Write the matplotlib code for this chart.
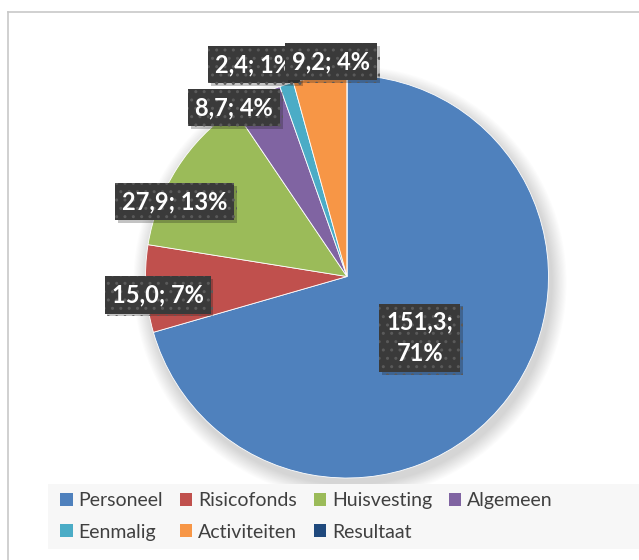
import matplotlib.pyplot as plt
from matplotlib.patches import Patch, Rectangle, Circle
from matplotlib.lines import Line2D
import matplotlib.patheffects as pe

plt.rcParams['font.family'] = ['Lato', 'DejaVu Sans']

categories = ['Personeel', 'Risicofonds', 'Huisvesting', 'Algemeen',
              'Eenmalig', 'Activiteiten', 'Resultaat']
values = [151.3, 15.0, 27.9, 8.7, 2.4, 9.2, 0.0]
colors = ['#4F81BD', '#C0504D', '#9BBB59', '#8064A2',
          '#4BACC6', '#F79646', '#1F497D']
# where Excel put the data labels (pie units, radius = 1)
label_pos = [(0.362, -0.305), (-0.940, -0.092), (-0.856, 0.372),
             (-0.561, 0.839), (-0.462, 1.052), (-0.079, 1.067), None]

fig = plt.figure(figsize=(6.39, 5.6), dpi=100)

# chart frame (cut off at right and bottom)
fig.add_artist(Line2D([8 / 639, 8 / 639], [0, 1 - 12 / 560], color='#c8c8c8', lw=1.2))
fig.add_artist(Line2D([8 / 639, 1], [1 - 12 / 560, 1 - 12 / 560], color='#c8c8c8', lw=1.2))

# legend background
fig.add_artist(Rectangle((48 / 639, 1 - 549 / 560), 1, 65 / 560,
                         facecolor='#f7f7f7', edgecolor='none'))

ax = fig.add_axes([0.2277, 0.1464, 0.6307, 0.7196])

# soft shadow under the pie
for i in range(14):
    ax.add_patch(Circle((0.015, -0.03), 1.0 + 0.075 * (1 - i / 14),
                        facecolor='black', edgecolor='none', alpha=0.012,
                        zorder=0, clip_on=False))

wedges, _ = ax.pie(values, colors=colors, startangle=90, counterclock=False,
                   radius=1.0, wedgeprops=dict(edgecolor='white', linewidth=0.6))
for w in wedges:
    w.set_zorder(1)
ax.set_xlim(-1, 1)
ax.set_ylim(-1, 1)
ax.set_aspect('equal')
ax.axis('off')

total = sum(values)
for v, pos in zip(values, label_pos):
    if pos is None:
        continue
    pct = round(v / total * 100)
    val = f'{v:.1f}'.replace('.', ',')
    txt = f'{val};\n{pct}%' if v > 100 else f'{val}; {pct}%'
    t = ax.text(pos[0], pos[1], txt, ha='center', va='center', color='white',
                fontsize=17, fontweight='bold', linespacing=1.45, zorder=5,
                bbox=dict(boxstyle='square,pad=0.3', facecolor='#3a3a3a',
                          edgecolor='#5a5a5a', linewidth=0, hatch='..'))
    t.get_bbox_patch().set_path_effects([
        pe.SimplePatchShadow(offset=(2, -2), alpha=0.25), pe.Normal()])

# legend is filled column by column, so reorder to get rows like Excel
order = [0, 4, 1, 5, 2, 6, 3]
handles = [Patch(facecolor=colors[i], edgecolor='none') for i in order]
fig.legend(handles, [categories[i] for i in order], ncol=4, loc='upper left',
           bbox_to_anchor=(60 / 639, 1 - 492 / 560), frameon=False,
           fontsize=14, labelcolor='#404040', handlelength=0.65,
           handleheight=0.65, handletextpad=0.3, columnspacing=0.85,
           labelspacing=0.75, borderaxespad=0, borderpad=0)

fig.savefig('out.png', dpi=100)
